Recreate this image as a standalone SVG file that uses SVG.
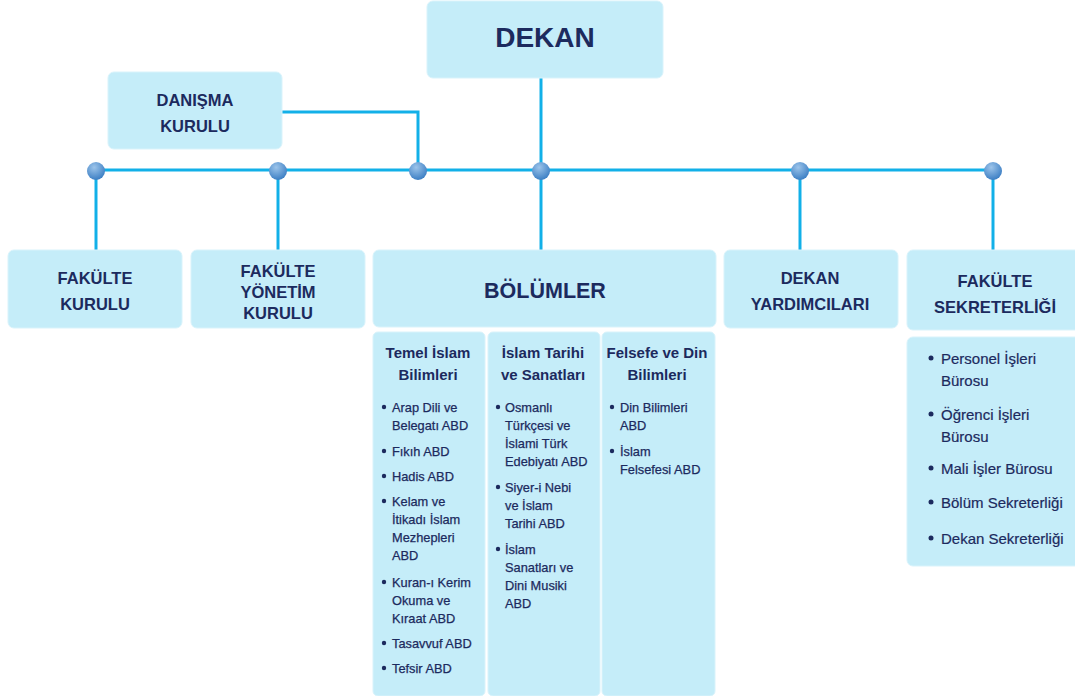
<svg xmlns="http://www.w3.org/2000/svg" width="1075" height="696" viewBox="0 0 1075 696">
<style>
.box{fill:#c5edf9;stroke:#d9f3fb;stroke-width:1}
.ln{stroke:#12b0e8;stroke-width:3;fill:none}
.t{font-family:"Liberation Sans",Arial,sans-serif;fill:#1c2a5e;font-weight:bold;text-anchor:middle;dominant-baseline:central}
.h{font-size:16.5px}
.c{font-size:15px}
.i{font-family:"Liberation Sans",Arial,sans-serif;fill:#1c2a5e;font-size:12.8px;dominant-baseline:central;stroke:#1c2a5e;stroke-width:0.25}
.s{font-family:"Liberation Sans",Arial,sans-serif;fill:#1c2a5e;font-size:15px;dominant-baseline:central;stroke:#1c2a5e;stroke-width:0.2}
.b{fill:#1c2a5e}
</style>
<defs>
<radialGradient id="dot" cx="40%" cy="30%" r="70%">
<stop offset="0" stop-color="#9cc4ea"/>
<stop offset="1" stop-color="#3d7fc4"/>
</radialGradient>
</defs>
<rect width="1075" height="696" fill="#fff"/>
<g id="connectors">
<line class="ln" x1="96" y1="170" x2="993" y2="170"/>
<line class="ln" x1="541" y1="78" x2="541" y2="170"/>
<polyline class="ln" points="282,112 418,112 418,170"/>
<line class="ln" x1="96" y1="170" x2="96" y2="250"/>
<line class="ln" x1="278" y1="170" x2="278" y2="250"/>
<line class="ln" x1="541" y1="170" x2="541" y2="250"/>
<line class="ln" x1="800" y1="170" x2="800" y2="250"/>
<line class="ln" x1="993" y1="170" x2="993" y2="250"/>
<g fill="url(#dot)">
<circle cx="96" cy="171" r="9"/>
<circle cx="278" cy="171" r="9"/>
<circle cx="418" cy="171" r="9"/>
<circle cx="541" cy="171" r="9"/>
<circle cx="800" cy="171" r="9"/>
<circle cx="993" cy="171" r="9"/>
</g>
</g>
<g id="dekan">
<rect class="box" x="427" y="1" width="236" height="77" rx="6"/>
<text class="t" x="545" y="37" font-size="28">DEKAN</text>
</g>
<g id="danisma">
<rect class="box" x="108" y="72" width="174" height="77" rx="6"/>
<text class="t h" x="195" y="100">DANIŞMA</text>
<text class="t h" x="195" y="126">KURULU</text>
</g>
<g id="fakulte-kurulu">
<rect class="box" x="8" y="250" width="174" height="78" rx="6"/>
<text class="t h" x="95" y="278">FAKÜLTE</text>
<text class="t h" x="95" y="304">KURULU</text>
</g>
<g id="fakulte-yonetim">
<rect class="box" x="191" y="250" width="174" height="78" rx="6"/>
<text class="t h" x="278" y="271">FAKÜLTE</text>
<text class="t h" x="278" y="292">YÖNETİM</text>
<text class="t h" x="278" y="313">KURULU</text>
</g>
<g id="bolumler">
<rect class="box" x="373" y="250" width="343" height="77" rx="6"/>
<text class="t" x="545" y="291" font-size="21.5">BÖLÜMLER</text>
</g>
<g id="dekan-yardimcilari">
<rect class="box" x="724" y="250" width="174" height="78" rx="6"/>
<text class="t h" x="810" y="278">DEKAN</text>
<text class="t h" x="810" y="304">YARDIMCILARI</text>
</g>
<g id="fakulte-sekreterligi">
<rect class="box" x="907" y="250" width="175" height="80" rx="6"/>
<text class="t h" x="995" y="281">FAKÜLTE</text>
<text class="t h" x="995" y="307">SEKRETERLİĞİ</text>
</g>
<g id="temel-islam">
<rect class="box" x="373" y="332" width="112" height="364" rx="5"/>
<text class="t c" x="428" y="352">Temel İslam</text>
<text class="t c" x="428" y="374">Bilimleri</text>
<g class="b"><circle cx="384" cy="407" r="2.2"/><circle cx="384" cy="451" r="2.2"/><circle cx="384" cy="476" r="2.2"/><circle cx="384" cy="501" r="2.2"/><circle cx="384" cy="582" r="2.2"/><circle cx="384" cy="643" r="2.2"/><circle cx="384" cy="668" r="2.2"/></g>
<text class="i" x="392" y="407">Arap Dili ve</text>
<text class="i" x="392" y="425">Belegatı ABD</text>
<text class="i" x="392" y="451">Fıkıh ABD</text>
<text class="i" x="392" y="476">Hadis ABD</text>
<text class="i" x="392" y="501">Kelam ve</text>
<text class="i" x="392" y="519">İtikadı İslam</text>
<text class="i" x="392" y="537">Mezhepleri</text>
<text class="i" x="392" y="555">ABD</text>
<text class="i" x="392" y="582">Kuran-ı Kerim</text>
<text class="i" x="392" y="600">Okuma ve</text>
<text class="i" x="392" y="618">Kıraat ABD</text>
<text class="i" x="392" y="643">Tasavvuf ABD</text>
<text class="i" x="392" y="668">Tefsir ABD</text>
</g>
<g id="islam-tarihi">
<rect class="box" x="488" y="332" width="112" height="364" rx="5"/>
<text class="t c" x="543" y="352">İslam Tarihi</text>
<text class="t c" x="543" y="374">ve Sanatları</text>
<g class="b"><circle cx="498" cy="407" r="2.2"/><circle cx="498" cy="487" r="2.2"/><circle cx="498" cy="549" r="2.2"/></g>
<text class="i" x="505" y="407">Osmanlı</text>
<text class="i" x="505" y="425">Türkçesi ve</text>
<text class="i" x="505" y="443">İslami Türk</text>
<text class="i" x="505" y="461">Edebiyatı ABD</text>
<text class="i" x="505" y="487">Siyer-i Nebi</text>
<text class="i" x="505" y="505">ve İslam</text>
<text class="i" x="505" y="523">Tarihi ABD</text>
<text class="i" x="505" y="549">İslam</text>
<text class="i" x="505" y="567">Sanatları ve</text>
<text class="i" x="505" y="585">Dini Musiki</text>
<text class="i" x="505" y="603">ABD</text>
</g>
<g id="felsefe">
<rect class="box" x="602" y="332" width="113" height="364" rx="5"/>
<text class="t c" x="657" y="352">Felsefe ve Din</text>
<text class="t c" x="657" y="374">Bilimleri</text>
<g class="b"><circle cx="612" cy="407" r="2.2"/><circle cx="612" cy="451" r="2.2"/></g>
<text class="i" x="620" y="407">Din Bilimleri</text>
<text class="i" x="620" y="425">ABD</text>
<text class="i" x="620" y="451">İslam</text>
<text class="i" x="620" y="469">Felsefesi ABD</text>
</g>
<g id="sekreterlik-list">
<rect class="box" x="907" y="337" width="175" height="229" rx="6"/>
<g class="b"><circle cx="931" cy="358" r="2.5"/><circle cx="931" cy="414" r="2.5"/><circle cx="931" cy="468" r="2.5"/><circle cx="931" cy="502" r="2.5"/><circle cx="931" cy="538" r="2.5"/></g>
<text class="s" x="941" y="358">Personel İşleri</text>
<text class="s" x="941" y="380">Bürosu</text>
<text class="s" x="941" y="414">Öğrenci İşleri</text>
<text class="s" x="941" y="436">Bürosu</text>
<text class="s" x="941" y="468">Mali İşler Bürosu</text>
<text class="s" x="941" y="502">Bölüm Sekreterliği</text>
<text class="s" x="941" y="538">Dekan Sekreterliği</text>
</g>
</svg>
